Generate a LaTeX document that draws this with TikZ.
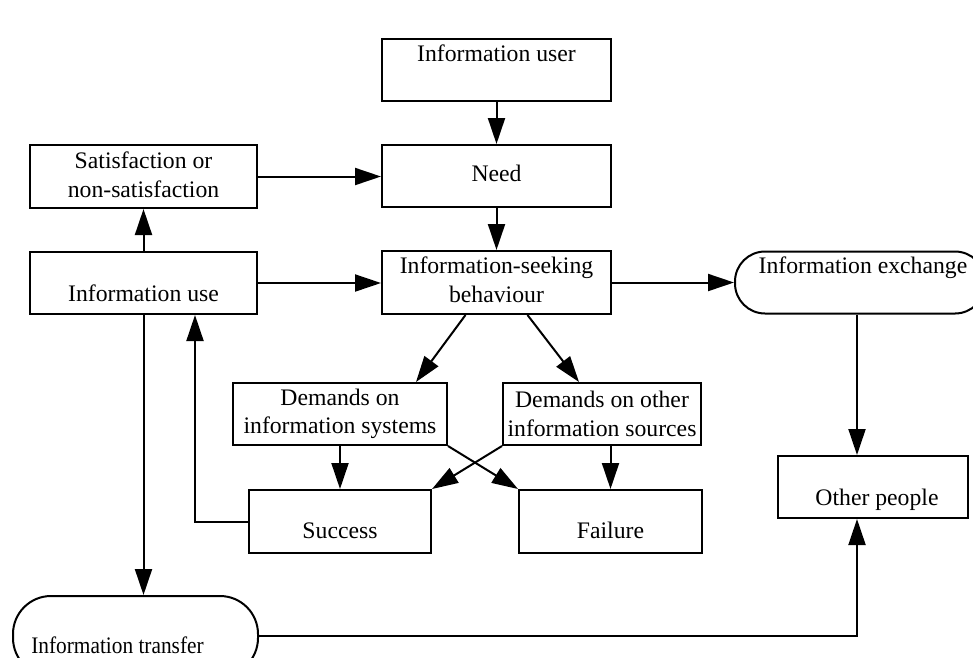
\documentclass[tikz,border=0pt]{standalone}
\usepackage{fontspec}
\setmainfont{Liberation Serif}
\usetikzlibrary{arrows.meta,calc}
\begin{document}
\begin{tikzpicture}[x=1pt,y=-1pt,
  box/.style={draw,line width=2pt,inner sep=0pt,minimum height=62pt},
  pill/.style={draw,line width=2pt,inner sep=0pt,rounded corners=30pt},
  txt/.style={font=\fontsize{23.7}{28.5}\selectfont,align=center,inner sep=0pt},
  one/.style={txt,text height=16pt,text depth=5pt},
  arr/.style={line width=2pt,-{Triangle[length=26pt,width=17pt]}},
  ln/.style={line width=2pt}
]
\useasboundingbox (0,0) rectangle (973,657);
\clip (0,0) rectangle (973,657);
\fill[white] (0,0) rectangle (973,657);

% boxes
\node[box,minimum width=229pt] (user) at (496.5,70) {};
\node[box,minimum width=229pt] (need) at (496.5,176) {};
\node[box,minimum width=229pt,minimum height=63pt] (seek) at (496.5,282.5) {};
\node[box,minimum width=227pt,minimum height=63pt] (sat) at (143.5,176.5) {};
\node[box,minimum width=227pt] (use) at (143.5,283) {};
\node[pill,minimum width=250pt,minimum height=62pt] (exch) at (860,282.5) {};
\node[box,minimum width=190pt] (other) at (873,487) {};
\node[box,minimum width=214pt] (dsys) at (340,414) {};
\node[box,minimum width=198pt] (doth) at (602,414) {};
\node[box,minimum width=182pt,minimum height=63pt] (succ) at (340,521.5) {};
\node[box,minimum width=183pt,minimum height=63pt] (fail) at (610.5,521.5) {};
\node[pill,minimum width=245pt,minimum height=80pt,rounded corners=38pt] (trans) at (135.5,636) {};

% texts
\node[one] (tuser) at (496.5,56) {Information user};
\node[one] (tneed) at (496.5,176) {Need};
\node[txt] (tseek) at (496.5,280) {Information-seeking\\behaviour};
\node[txt] (tsat) at (143.5,175) {Satisfaction or\\non-satisfaction};
\node[one] (tuse) at (143.5,296) {Information use};
\node[one] (texch) at (863,268) {Information exchange};
\node[one] (tother) at (877,500) {Other people};
\node[txt] (tdsys) at (340,414) {Demands on\\information systems};
\node[txt] (tdoth) at (602,414) {Demands on other\\information sources};
\node[one] (tsucc) at (340,533) {Success};
\node[one] (tfail) at (610.5,533) {Failure};
\node[one] (ttrans) at (117.5,648) {\scalebox{0.9}[1]{Information transfer}};

% connectors
\coordinate (ox) at (857,0);
\coordinate (bx) at (195,0);
\draw[arr] (user) -- (need);
\draw[arr] (need) -- (seek);
\draw[arr] (sat.east) -- (need.west |- sat.east);
\draw[arr] (use) -- (sat);
\draw[arr] (use.east) -- (seek.west |- use.east);
\draw[arr] (seek.east) -- (exch.west);
\draw[arr] ($(seek.south)+(-31,0)$) -- ($(dsys.north east)+(-32,0)$);
\draw[arr] ($(seek.south)+(31,0)$) -- ($(doth.north west)+(77,0)$);
\draw[arr] (dsys) -- (succ);
\draw[arr] (doth.south -| fail.north) -- (fail.north);
\draw[arr] (dsys.south east) -- (fail.north west);
\draw[arr] (doth.south west) -- (succ.north east);
\draw[arr] (succ.west) -| (use.south -| bx);
\draw[arr] (use.south) -- (use.south |- trans.north);
\draw[arr] (trans.east) -| (other.south -| ox);
\draw[arr] (exch.south -| ox) -- (other.north -| ox);
\end{tikzpicture}
\end{document}
